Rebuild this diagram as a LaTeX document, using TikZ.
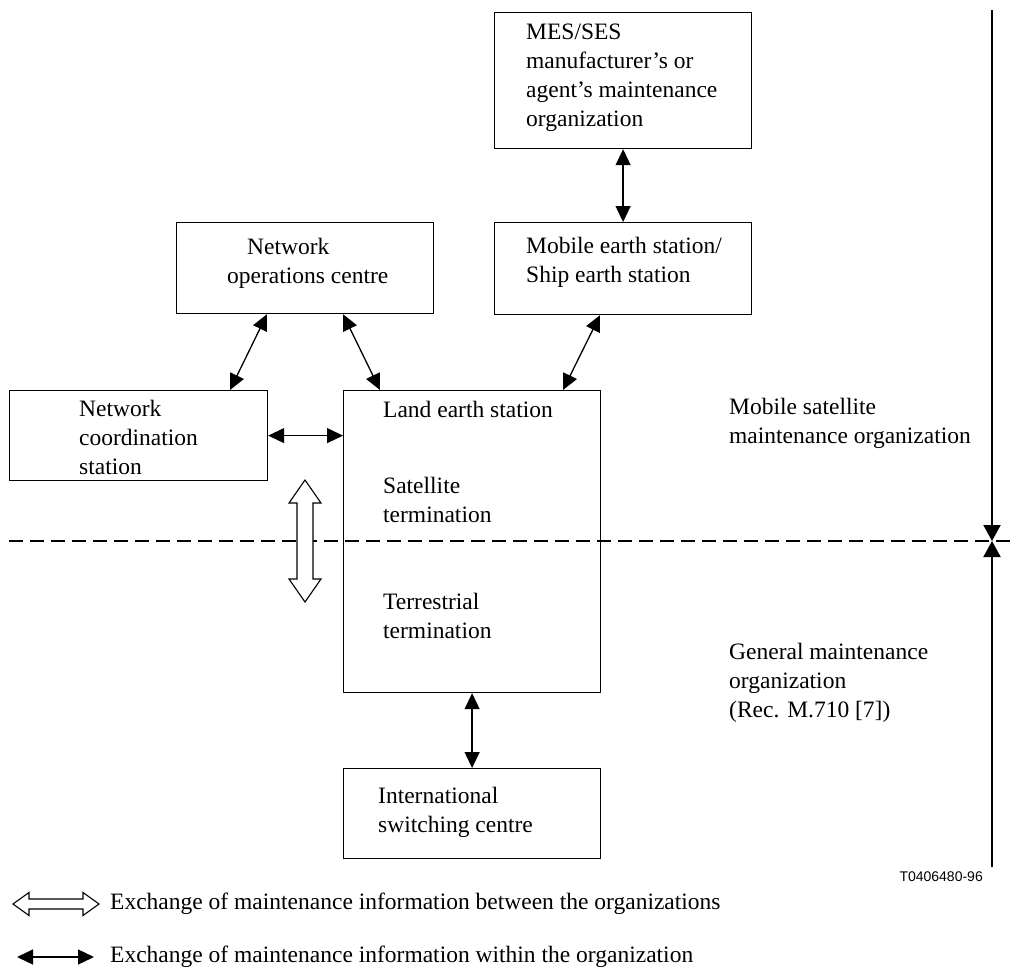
\documentclass[tikz,border=0pt]{standalone}
\usepackage{fontspec}
\setmainfont{Liberation Serif}
\newfontfamily\labelsans{Liberation Sans}
\usetikzlibrary{arrows.meta,calc}
\tikzset{
  box/.style={draw, line width=1.2pt, minimum width=257pt, anchor=north west, inner sep=0pt},
  txt/.style={inner sep=0pt, align=left, anchor=west, font=\fontsize{23.5}{29}\selectfont},
  biarrow/.style={{Triangle[length=16pt,width=15pt]}-{Triangle[length=16pt,width=15pt]}, line width=1.3pt},
  hollow/.style={draw, line width=1.1pt, fill=white},
  divider/.style={line width=1.4pt, dash pattern=on 14pt off 7pt},
  scaleline/.style={line width=2pt, -{Triangle[length=16pt,width=17pt]}}
}
\begin{document}
\begin{tikzpicture}[x=1pt,y=-1pt]
\useasboundingbox (0,0) rectangle (1010,969);
% boxes
\node[box, minimum height=136pt] (mes) at (494,12) {};
\node[box, minimum height=92pt] (mobes) at (494,222) {};
\node[box, minimum height=91pt] (noc) at (176,222) {};
\node[box, minimum width=258pt, minimum height=90pt] (ncs) at (9,390) {};
\node[box, minimum height=302pt] (les) at (343,390) {};
\node[box, minimum height=90pt] (isc) at (343,768) {};
% box texts
\node[txt] (mesT) at (526,78) {MES/SES\\manufacturer's or\\agent's maintenance\\organization};
\node[txt] (mobesT) at (526,262) {Mobile earth station/\\Ship earth station};
\node[txt] (nocT) at (227,263) {\hspace*{20pt}Network\\operations centre};
\node[txt] (ncsT) at (79,437) {Network\\coordination\\station};
\node[txt] (lesT1) at (383,409) {Land earth station};
\node[txt] (lesT2) at (383,500) {Satellite\\termination};
\node[txt] (lesT3) at (383,616) {Terrestrial\\termination};
\node[txt] (iscT) at (378,812.5) {International\\switching centre};
% right side texts
\node[txt] (mobOrg) at (729,423) {Mobile satellite\\maintenance organization};
\node[txt] (genOrg) at (729,683) {General maintenance\\organization\\(Rec. M.710 [7])};
\node[inner sep=0pt, anchor=east, font=\labelsans\fontsize{14}{16}\selectfont] (ref) at (983,877) {T0406480-96};
% connectors
\draw[biarrow] (mes.south) -- (mobes.north);
\draw[biarrow] ($(noc.south west)+(91,0)$) -- ($(ncs.north west)+(221,0)$);
\draw[biarrow] ($(noc.south west)+(167,0)$) -- ($(les.north west)+(37,0)$);
\draw[biarrow] ($(mobes.south west)+(106,0)$) -- ($(les.north west)+(220,0)$);
\draw[biarrow] (ncs.east) -- (ncs.east -| les.west);
\draw[biarrow] (les.south) -- (isc.north);
% divider and scale line
\coordinate (dl) at (9,541);
\coordinate (dr) at (1010,541);
\draw[divider] (dl) -- (dr);
\coordinate (rtop) at (992,10);
\coordinate (rmid) at (992,541);
\coordinate (rbot) at (992,867);
\draw[scaleline] (rtop) -- (rmid);
\draw[scaleline] (rbot) -- (rmid);
% hollow exchange arrow between organizations
\draw[hollow] (305,480) -- (321,503) -- (313,503) -- (313,579) -- (321,579) -- (305,602)
  -- (289,579) -- (297,579) -- (297,503) -- (289,503) -- cycle;
% legend
\draw[hollow] (13,904) -- (29,892.5) -- (29,899) -- (83,899) -- (83,892.5) -- (99,904)
  -- (83,915.5) -- (83,909) -- (29,909) -- (29,915.5) -- cycle;
\node[txt] (legA) at (110,904) {Exchange of maintenance information between the organizations};
\coordinate (lb1) at (17,957);
\coordinate (lb2) at (94,957);
\draw[biarrow] (lb1) -- (lb2);
\node[txt] (legB) at (110,957) {Exchange of maintenance information within the organization};
\end{tikzpicture}
\end{document}
